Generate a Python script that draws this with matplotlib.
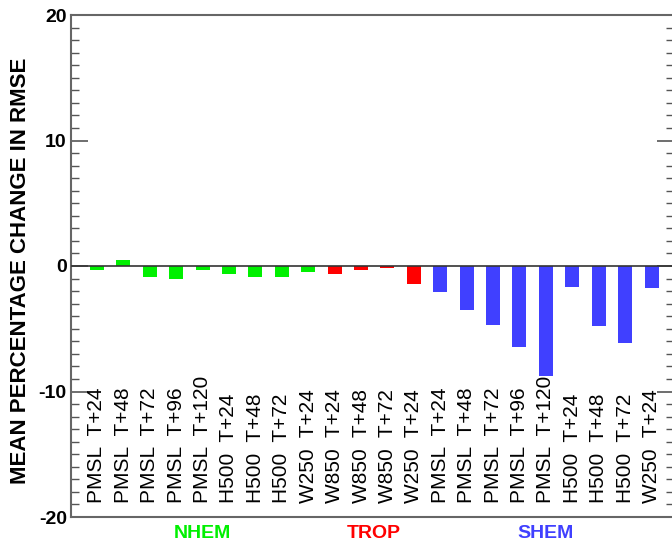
import numpy as np
import matplotlib
matplotlib.use("Agg")
import matplotlib.pyplot as plt
from matplotlib.ticker import MultipleLocator

plt.rcParams["font.family"] = ["Liberation Sans", "DejaVu Sans"]
plt.rcParams["axes.unicode_minus"] = False

# data
fields = ["PMSL", "PMSL", "PMSL", "PMSL", "PMSL", "H500", "H500", "H500", "W250",
          "W850", "W850", "W850", "W250",
          "PMSL", "PMSL", "PMSL", "PMSL", "PMSL", "H500", "H500", "H500", "W250"]
leads = ["T+24", "T+48", "T+72", "T+96", "T+120", "T+24", "T+48", "T+72", "T+24",
         "T+24", "T+48", "T+72", "T+24",
         "T+24", "T+48", "T+72", "T+96", "T+120", "T+24", "T+48", "T+72", "T+24"]
change = [-0.35, 0.5, -0.9, -1.05, -0.35, -0.6, -0.9, -0.9, -0.45,
          -0.6, -0.35, -0.15, -1.47,
          -2.1, -3.47, -4.67, -6.45, -8.8, -1.65, -4.75, -6.16, -1.73]
regions = ["NHEM", "TROP", "SHEM"]
region_n = [9, 4, 9]
region_col = {"NHEM": "#00f000", "TROP": "#ff0000", "SHEM": "#4040ff"}

x = np.arange(len(change))
reg_of_bar = np.repeat(regions, region_n)
cols = [region_col[r] for r in reg_of_bar]

fig = plt.figure(figsize=(6.72, 5.42), dpi=100)
ax = fig.add_axes([71 / 672, 25 / 542, 603 / 672, 502 / 542])
ax.bar(x, change, width=0.53, color=cols, zorder=2)
ax.axhline(0, color="#333333", lw=1.2, zorder=3)

ax.set_xlim(-0.98, 21.85)
ax.set_ylim(-20, 20)
ax.set_xticks([])
ax.yaxis.set_major_locator(MultipleLocator(10))
ax.yaxis.set_minor_locator(MultipleLocator(1))
ax.tick_params(axis="y", which="major", direction="in", length=12, width=1.2,
               color="#555555", labelsize=14, right=True, pad=3)
ax.tick_params(axis="y", which="minor", direction="in", length=6, width=1.0,
               color="#555555", right=True)
for t in ax.get_yticklabels():
    t.set_fontweight("bold")
for s in ax.spines.values():
    s.set_color("#666666")
    s.set_linewidth(1.5)

# bar labels inside the axes, rotated, anchored at the bottom
for xi, f, l in zip(x, fields, leads):
    ax.text(xi, -18.9, f"{f}  {l}", rotation=90, ha="center", va="bottom",
            fontsize=15, zorder=4)

# region labels under the axis
start = 0
for r, n in zip(regions, region_n):
    mid = start + (n - 1) / 2
    ax.text(mid, -21.3, r, ha="center", va="center", fontsize=14,
            fontweight="bold", color=region_col[r], clip_on=False)
    start += n

ax.set_ylabel("MEAN PERCENTAGE CHANGE IN RMSE", fontsize=16, fontweight="bold")
ax.yaxis.set_label_coords(-0.066, 0.49)

fig.savefig("out.png", dpi=100)
